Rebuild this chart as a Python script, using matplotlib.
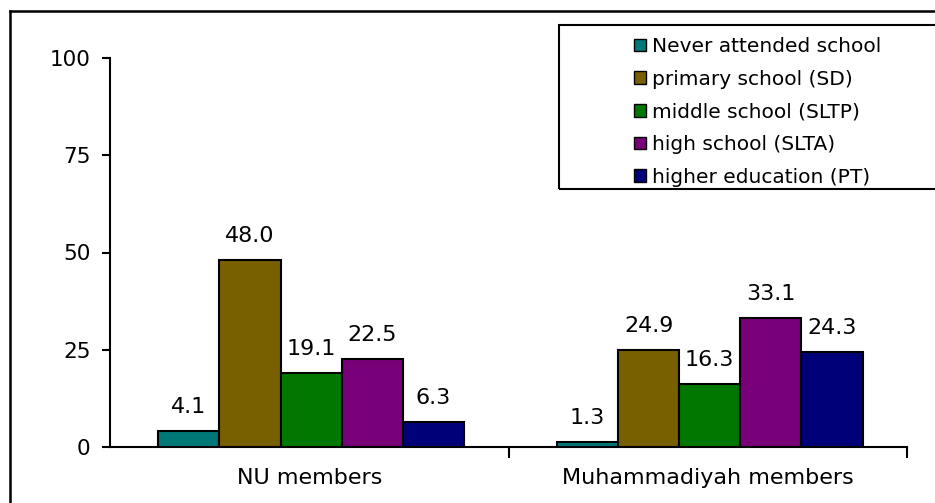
import matplotlib.pyplot as plt
from matplotlib.patches import Rectangle, Patch
from matplotlib.lines import Line2D
import numpy as np

groups = ['NU members', 'Muhammadiyah members']
levels = ['Never attended school', 'primary school (SD)', 'middle school (SLTP)',
          'high school (SLTA)', 'higher education (PT)']
nu_vals = [4.1, 48.0, 19.1, 22.5, 6.3]
muh_vals = [1.3, 24.9, 16.3, 33.1, 24.3]
colors = ['#007878', '#785f00', '#007800', '#780078', '#000078']

plt.rcParams['font.family'] = 'DejaVu Sans'
plt.rcParams['font.size'] = 15.5

fig = plt.figure(figsize=(9.35, 5.03), dpi=100)
ax = fig.add_axes([110 / 935, 1 - 447 / 503, 797 / 935, 389 / 503])

x = np.arange(len(groups))
w = 0.1535
for i, lev in enumerate(levels):
    vals = [nu_vals[i], muh_vals[i]]
    pos = x + (i - 2) * w + 0.005
    ax.bar(pos, vals, width=w, color=colors[i], edgecolor='black', linewidth=1.5,
           label=lev, zorder=3)
    for p, v in zip(pos, vals):
        ax.text(p, v + 3.6, f'{v:.1f}', ha='center', va='bottom', fontsize=16)

ax.set_xlim(-0.5, 1.5)
ax.set_ylim(0, 100)
ax.set_yticks([0, 25, 50, 75, 100])
ax.set_xticks(x)
ax.set_xticklabels(groups, fontsize=16)
ax.set_xticks([0.5, 1.5], minor=True)
ax.tick_params(axis='x', which='major', length=0, pad=15)
ax.tick_params(axis='x', which='minor', length=8, width=1.5, direction='out')
ax.tick_params(axis='y', length=6, width=1.5, direction='out', pad=8)
for s in ['top', 'right']:
    ax.spines[s].set_visible(False)
for s in ['left', 'bottom']:
    ax.spines[s].set_linewidth(1.5)

# outer border (cropped on right/bottom)
fig.add_artist(Line2D([10 / 935, 10 / 935], [-0.01, 1 - 11 / 503], color='black',
                      lw=1.8, transform=fig.transFigure))
fig.add_artist(Line2D([10 / 935, 1.01], [1 - 11 / 503, 1 - 11 / 503], color='black',
                      lw=1.8, transform=fig.transFigure))

# legend box
fig.add_artist(Rectangle((559 / 935, 1 - 189 / 503), 0.5, (189 - 25) / 503,
                         fill=False, edgecolor='black', lw=1.5,
                         transform=fig.transFigure, clip_on=False))
handles = [Patch(facecolor=c, edgecolor='black', linewidth=1) for c in colors]
fig.legend(handles, levels, loc='upper left', bbox_to_anchor=(624 / 935, 1 - 27 / 503),
           frameon=False, fontsize=14.5, handlelength=0.6, handleheight=0.6,
           handletextpad=0.3, labelspacing=0.68, borderpad=0)

fig.savefig('out.png', dpi=100)
